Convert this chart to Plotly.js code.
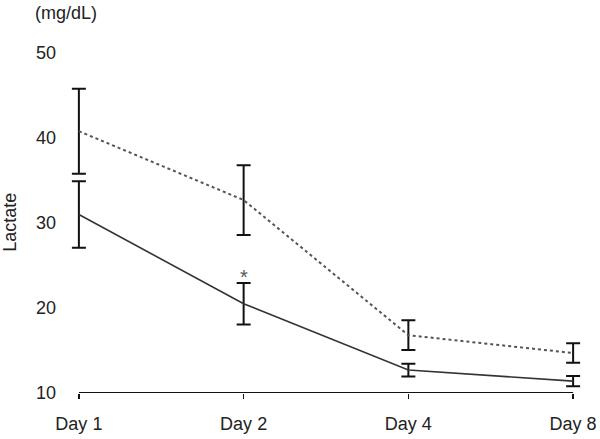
<!DOCTYPE html>
<html>
<head>
<meta charset="utf-8">
<script src="https://cdn.plot.ly/plotly-3.0.1.min.js"></script>
<style>
  body { margin: 0; background: #fff; }
  #chart { width: 600px; height: 439px; }
</style>
</head>
<body>
<div id="chart"></div>
<script>
var days = ['Day 1', 'Day 2', 'Day 4', 'Day 8'];
// dashed series
var dashed_mean = [40.8, 32.7, 16.8, 14.7];
var dashed_err = [5.0, 4.1, 1.75, 1.15];
// solid series
var solid_mean = [31.0, 20.5, 12.7, 11.4];
var solid_err = [3.9, 2.45, 0.75, 0.6];

// plot area in pixels (a little padding so edge error caps aren't clipped)
var pad = 0.06;
var unit = (573 - 79) / 3;
var L = 79 - pad * unit, R = 573 + pad * unit, T = 53, B = 393;
function px(x) { return (x - L) / (R - L) }
function py(y) { return (B - y) / (B - T) }

var trace_dashed = {
  x: days,
  y: dashed_mean,
  mode: 'lines',
  type: 'scatter',
  line: { color: '#555555', width: 2, dash: '3px,3px' },
  error_y: { type: 'data', array: dashed_err, visible: true, color: '#111111', thickness: 2, width: 7 }
}
var trace_solid = {
  x: days,
  y: solid_mean,
  mode: 'lines',
  type: 'scatter',
  line: { color: '#333333', width: 1.6 },
  error_y: { type: 'data', array: solid_err, visible: true, color: '#111111', thickness: 2, width: 7 }
}

var layout = {
  width: 600,
  height: 439,
  showlegend: false,
  paper_bgcolor: '#ffffff',
  plot_bgcolor: '#ffffff',
  margin: { l: L, r: 600 - R, t: T, b: 439 - B },
  font: { family: 'Liberation Sans, Arial, sans-serif', size: 18, color: '#222222' },
  xaxis: {
    type: 'category',
    range: [-pad, 3 + pad],
    showgrid: false,
    zeroline: false,
    showline: false,
    ticks: 'outside',
    ticklen: 5,
    tickwidth: 1.5,
    tickcolor: '#111111',
    ticklabelstandoff: 9
  },
  yaxis: {
    range: [10, 50],
    tickvals: [10, 20, 30, 40, 50],
    showgrid: false,
    zeroline: false,
    showline: false,
    ticks: '',
    ticklabelstandoff: 12
  },
  shapes: [
    // x axis line only from Day 1 to Day 8
    { type: 'line', xref: 'x', yref: 'y', x0: 0, x1: 3, y0: 10, y1: 10, line: { color: '#111111', width: 2 } }
  ],
  annotations: [
    {
      x: 'Day 2', y: 23.7, xref: 'x', yref: 'y',
      text: '*', showarrow: false,
      font: { size: 20, color: '#555555' }
    },
    {
      x: px(10), y: py(222), xref: 'paper', yref: 'paper',
      xanchor: 'center', yanchor: 'middle',
      text: 'Lactate', textangle: -90, showarrow: false,
      font: { size: 18 }
    },
    {
      x: px(33), y: py(13), xref: 'paper', yref: 'paper',
      xanchor: 'left', yanchor: 'middle', text: '(mg/dL)', showarrow: false,
      font: { size: 18 }
    }
  ]
}

Plotly.newPlot('chart', [trace_dashed, trace_solid], layout, { displayModeBar: false, staticPlot: true });
</script>
</body>
</html>
